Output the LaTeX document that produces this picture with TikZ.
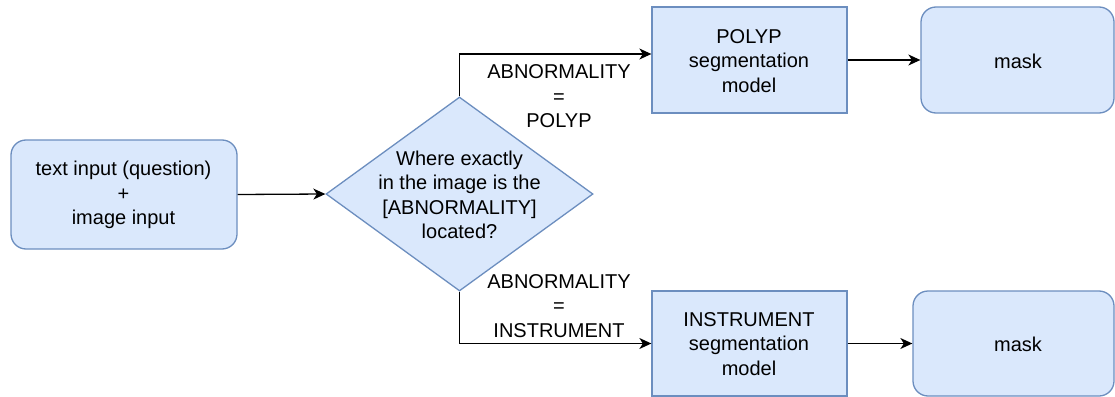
\documentclass[tikz,border=0pt]{standalone}
\usepackage{fontspec}
\setmainfont{Liberation Sans}
\usetikzlibrary{shapes.geometric,arrows.meta}
\definecolor{boxfill}{HTML}{DAE8FC}
\definecolor{boxline}{HTML}{6C8EBF}
\tikzset{
  blk/.style={draw=boxline,fill=boxfill,line width=1.3pt,inner sep=0pt,align=center},
  rbox/.style={blk,rectangle,rounded corners=15pt},
  sbox/.style={blk,rectangle},
  dia/.style={blk,diamond},
  txt/.style={align=center,inner sep=0pt,font=\fontsize{20}{24.5}\selectfont},
  conn/.style={line width=1.3pt,-{Stealth[length=12pt,width=11pt,inset=3.5pt]}}
}
\begin{document}
\begin{tikzpicture}[x=1pt,y=-1pt]
\useasboundingbox (0,0) rectangle (1115,396);
\node[rbox,minimum width=226pt,minimum height=109pt] (in) at (124,194.5) {};
\node[txt] (intxt) at (123.5,195) {text input (question)\\+\\image input};
\node[dia,minimum width=267pt,minimum height=194pt] (dec) at (459.5,194) {};
\node[txt] (dectxt) at (459.5,195) {Where exactly\\in the image is the\\{[}ABNORMALITY{]}\\located?};
\node[sbox,minimum width=195pt,minimum height=106pt] (poly) at (749.5,60) {};
\node[txt] (polytxt) at (749,61) {POLYP\\segmentation\\model};
\node[rbox,minimum width=193pt,minimum height=106pt] (maskA) at (1017.5,60) {};
\node[txt] (maskAtxt) at (1018,61) {mask};
\node[sbox,minimum width=195pt,minimum height=105pt] (inst) at (749.5,343.5) {};
\node[txt] (insttxt) at (749,344) {INSTRUMENT\\segmentation\\model};
\node[rbox,minimum width=201pt,minimum height=105pt] (maskB) at (1013.5,343.5) {};
\node[txt] (maskBtxt) at (1018,344) {mask};
\node[txt] (labA) at (559,96.5) {ABNORMALITY\\=\\POLYP};
\node[txt] (labB) at (559,306) {ABNORMALITY\\=\\INSTRUMENT};
\draw[conn] (in.east) -- (dec.west);
\draw[conn] (dec.north) |- ([yshift=6pt]poly.west);
\draw[conn] (dec.south) |- (inst.west);
\draw[conn] (poly.east) -- (maskA.west);
\draw[conn] (inst.east) -- (maskB.west);
\end{tikzpicture}
\end{document}
